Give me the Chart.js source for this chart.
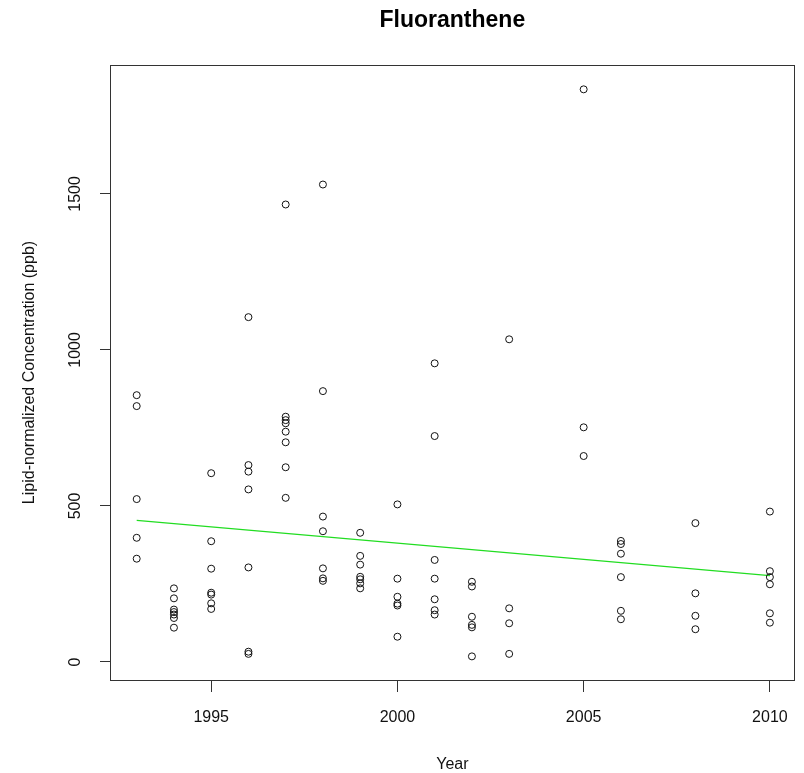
<!DOCTYPE html>
<html>
<head>
<meta charset="utf-8">
<script src="https://cdn.jsdelivr.net/npm/chart.js@4"></script>
<style>
  html, body { margin: 0; padding: 0; background: #fff; }
  canvas { display: block; }
</style>
</head>
<body>
<canvas id="grafico" width="804" height="773"></canvas>
<script>
// sample year and lipid-normalized concentration (ppb)
const years = [
  1993, 1993, 1993, 1993, 1993,
  1994, 1994, 1994, 1994, 1994, 1994, 1994,
  1995, 1995, 1995, 1995, 1995, 1995, 1995,
  1996, 1996, 1996, 1996, 1996, 1996, 1996,
  1997, 1997, 1997, 1997, 1997, 1997, 1997, 1997,
  1998, 1998, 1998, 1998, 1998, 1998, 1998,
  1999, 1999, 1999, 1999, 1999, 1999, 1999,
  2000, 2000, 2000, 2000, 2000, 2000,
  2001, 2001, 2001, 2001, 2001, 2001, 2001,
  2002, 2002, 2002, 2002, 2002, 2002,
  2003, 2003, 2003, 2003,
  2005, 2005, 2005,
  2006, 2006, 2006, 2006, 2006, 2006,
  2008, 2008, 2008, 2008,
  2010, 2010, 2010, 2010, 2010, 2010
];
const concentrations = [
  855, 820, 522, 398, 331,
  236, 204, 168, 160, 152, 141, 110,
  605, 387, 299, 222, 216, 188, 170,
  1105, 631, 610, 553, 303, 33, 26,
  1466, 786, 775, 765, 738, 704, 624, 526,
  1530, 868, 466, 419, 300, 268, 260,
  414, 340, 312, 273, 265, 252, 236,
  505, 267, 209, 187, 181, 81,
  957, 724, 327, 267, 201, 166, 152,
  257, 242, 145, 119, 111, 18,
  1034, 172, 124, 26,
  1835, 752, 660,
  388, 378, 347, 272, 164, 137,
  445, 220, 148, 105,
  482, 291, 272, 249, 156, 126
];

// linear trend (ends of the green line)
const trendYears = [1993, 2010];
const trendValues = [454, 277];

// axis ticks
const xTicks = [1995, 2000, 2005, 2010];
const yTicks = [0, 500, 1000, 1500];

const titulo = 'Fluoranthene';
const fuente = "'Liberation Sans', Arial, sans-serif";

// caja completa, titulo centrado sobre el area y etiquetas y giradas
const cajaYEtiquetas = {
  id: 'cajaYEtiquetas',
  afterDraw(chart) {
    const ctx = chart.ctx;
    const a = chart.chartArea;
    ctx.save();
    ctx.strokeStyle = '#333';
    ctx.lineWidth = 1;
    const x0 = Math.round(a.left) - 0.5;
    const y0 = Math.round(a.top) + 0.5;
    ctx.strokeRect(x0, y0, Math.round(a.right) + 0.5 - x0, Math.round(a.bottom) + 0.5 - y0);

    // titulo (R lo centra sobre la caja, no sobre el lienzo)
    ctx.fillStyle = '#000';
    ctx.font = 'bold 23px ' + fuente;
    ctx.textAlign = 'center';
    ctx.textBaseline = 'alphabetic';
    ctx.fillText(titulo, (a.left + a.right) / 2, 27);

    // R style: y tick labels parallel to the axis
    const escalaY = chart.scales.y;
    ctx.fillStyle = '#111';
    ctx.font = '16px ' + fuente;
    ctx.textBaseline = 'middle';
    yTicks.forEach(v => {
      const py = escalaY.getPixelForValue(v);
      ctx.save();
      ctx.translate(76, py);
      ctx.rotate(-Math.PI / 2);
      ctx.fillText(String(v), 0, 0);
      ctx.restore();
    });
    ctx.restore();
  }
};

const ctx = document.getElementById('grafico').getContext('2d');
new Chart(ctx, {
  type: 'scatter',
  data: {
    datasets: [
      {
        label: 'Fluoranthene',
        data: years.map((y, i) => ({ x: y, y: concentrations[i] })),
        showLine: false,
        pointStyle: 'circle',
        pointRadius: 3.5,
        pointHoverRadius: 3.5,
        borderWidth: 1,
        borderColor: '#111',
        backgroundColor: 'rgba(0,0,0,0)'
      },
      {
        type: 'line',
        label: 'Trend',
        data: trendYears.map((y, i) => ({ x: y, y: trendValues[i] })),
        borderColor: '#22dd22',
        borderWidth: 1.2,
        pointRadius: 0,
        fill: false,
        tension: 0
      }
    ]
  },
  options: {
    responsive: false,
    animation: false,
    layout: { padding: { left: 0, right: 9, top: 65, bottom: 0 } },
    plugins: {
      legend: { display: false },
      tooltip: { enabled: false },
      title: { display: false }
    },
    scales: {
      x: {
        type: 'linear',
        min: 1992.31,
        max: 2010.64,
        afterBuildTicks: s => { s.ticks = xTicks.map(v => ({ value: v })); },
        afterFit: s => { s.height = 93; },
        border: { display: false },
        grid: { drawOnChartArea: false, drawTicks: true, tickLength: 12, color: '#333' },
        ticks: {
          color: '#111',
          padding: 16,
          maxRotation: 0,
          font: { family: fuente, size: 16 },
          callback: v => String(v)
        },
        title: {
          display: true,
          text: 'Year',
          color: '#111',
          font: { family: fuente, size: 16, lineHeight: 1 },
          padding: { top: 0, bottom: 0 }
        }
      },
      y: {
        type: 'linear',
        min: -57.7,
        max: 1913,
        afterBuildTicks: s => { s.ticks = yTicks.map(v => ({ value: v })); },
        afterFit: s => { s.width = 111; },
        border: { display: false },
        grid: { drawOnChartArea: false, drawTicks: true, tickLength: 11, color: '#333' },
        ticks: { display: false },
        title: {
          display: true,
          text: 'Lipid-normalized Concentration (ppb)',
          color: '#111',
          font: { family: fuente, size: 16, lineHeight: 1 },
          padding: { top: 22, bottom: 0 }
        }
      }
    }
  },
  plugins: [cajaYEtiquetas]
});
</script>
</body>
</html>
